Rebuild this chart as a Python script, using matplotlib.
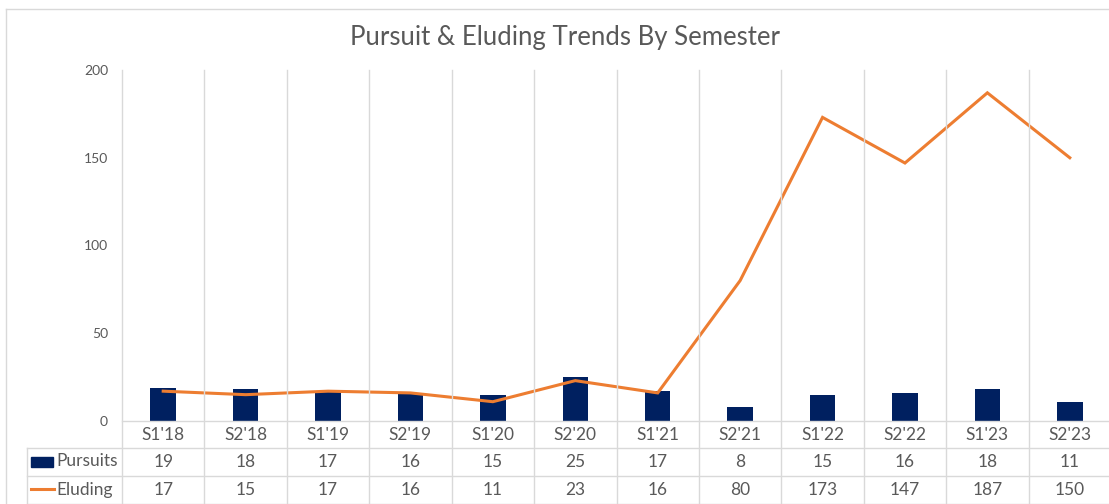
import numpy as np
import matplotlib.pyplot as plt
from matplotlib.lines import Line2D
from matplotlib.patches import Rectangle
from matplotlib.transforms import blended_transform_factory

semesters = ["S1'18", "S2'18", "S1'19", "S2'19", "S1'20", "S2'20",
             "S1'21", "S2'21", "S1'22", "S2'22", "S1'23", "S2'23"]
pursuits = [19, 18, 17, 16, 15, 25, 17, 8, 15, 16, 18, 11]
eluding = [17, 15, 17, 16, 11, 23, 16, 80, 173, 147, 187, 150]

BAR_COLOR = '#002060'
LINE_COLOR = '#ED7D31'
TEXT_COLOR = '#595959'
GRID_COLOR = '#D9D9D9'

plt.rcParams['font.family'] = ['Lato', 'DejaVu Sans']

W, H = 1109, 504
fig = plt.figure(figsize=(W / 100, H / 100), dpi=100)


def fy(p):
    # pixel row -> figure fraction
    return (H - p) / H


def fx(p):
    return p / W


plot_left, plot_right, plot_top, plot_bottom = 122, 1111, 70, 421
ax = fig.add_axes([fx(plot_left), fy(plot_bottom),
                   fx(plot_right - plot_left), (plot_bottom - plot_top) / H])

x = np.arange(len(semesters))
ax.bar(x, pursuits, width=0.31, color=BAR_COLOR, zorder=3)
ax.plot(x, eluding, color=LINE_COLOR, lw=2.2, zorder=4, solid_joinstyle='miter')

ax.set_xlim(-0.5, len(semesters) - 0.5)
ax.set_ylim(0, 200)
ax.set_yticks([0, 50, 100, 150, 200])
ax.set_xticks([])
ax.tick_params(axis='y', length=0, pad=10, labelsize=10, labelcolor=TEXT_COLOR)
for s in ax.spines.values():
    s.set_visible(False)

# data table below the plot
tr = blended_transform_factory(ax.transData, fig.transFigure)
row_tops = [421, 448, 476, 504]
for k in range(len(semesters) + 1):
    fig.add_artist(Line2D([k - 0.5, k - 0.5], [fy(plot_top), fy(504)],
                          transform=tr, color=GRID_COLOR, lw=1, zorder=1))
fig.add_artist(Line2D([-0.5, len(semesters) - 0.5], [fy(421), fy(421)],
                      transform=tr, color=GRID_COLOR, lw=1, zorder=1))
for p in row_tops[1:]:
    fig.add_artist(Line2D([fx(27), 1], [fy(p), fy(p)],
                          transform=fig.transFigure, color=GRID_COLOR, lw=1))
fig.add_artist(Line2D([fx(27), fx(27)], [fy(448), fy(504)],
                      transform=fig.transFigure, color=GRID_COLOR, lw=1))

rows = [semesters, pursuits, eluding]
for r, vals in enumerate(rows):
    yc = fy((row_tops[r] + row_tops[r + 1]) / 2)
    for i, v in enumerate(vals):
        fig.text(0, 0, str(v), transform=tr, fontsize=12.5, color=TEXT_COLOR,
                 ha='center', va='center').set_position((i, yc))

# legend keys in the table
fig.add_artist(Rectangle((fx(31), fy(467)), fx(22), 10 / H,
                         transform=fig.transFigure, color=BAR_COLOR))
fig.add_artist(Line2D([fx(31), fx(54)], [fy(489), fy(489)],
                      transform=fig.transFigure, color=LINE_COLOR, lw=2.2))
fig.text(fx(56), fy(461.5), 'Pursuits', fontsize=12.5, color=TEXT_COLOR, va='center')
fig.text(fx(56), fy(489.5), 'Eluding', fontsize=12.5, color=TEXT_COLOR, va='center')

# outer frame
fig.add_artist(Line2D([fx(6), 1], [fy(9), fy(9)], transform=fig.transFigure,
                      color=GRID_COLOR, lw=1))
fig.add_artist(Line2D([fx(6), fx(6)], [fy(9), 0], transform=fig.transFigure,
                      color=GRID_COLOR, lw=1))

fig.text(fx(565), fy(38), 'Pursuit & Eluding Trends By Semester',
         fontsize=18.5, color=TEXT_COLOR, ha='center', va='center')

fig.savefig('out.png', dpi=100)
